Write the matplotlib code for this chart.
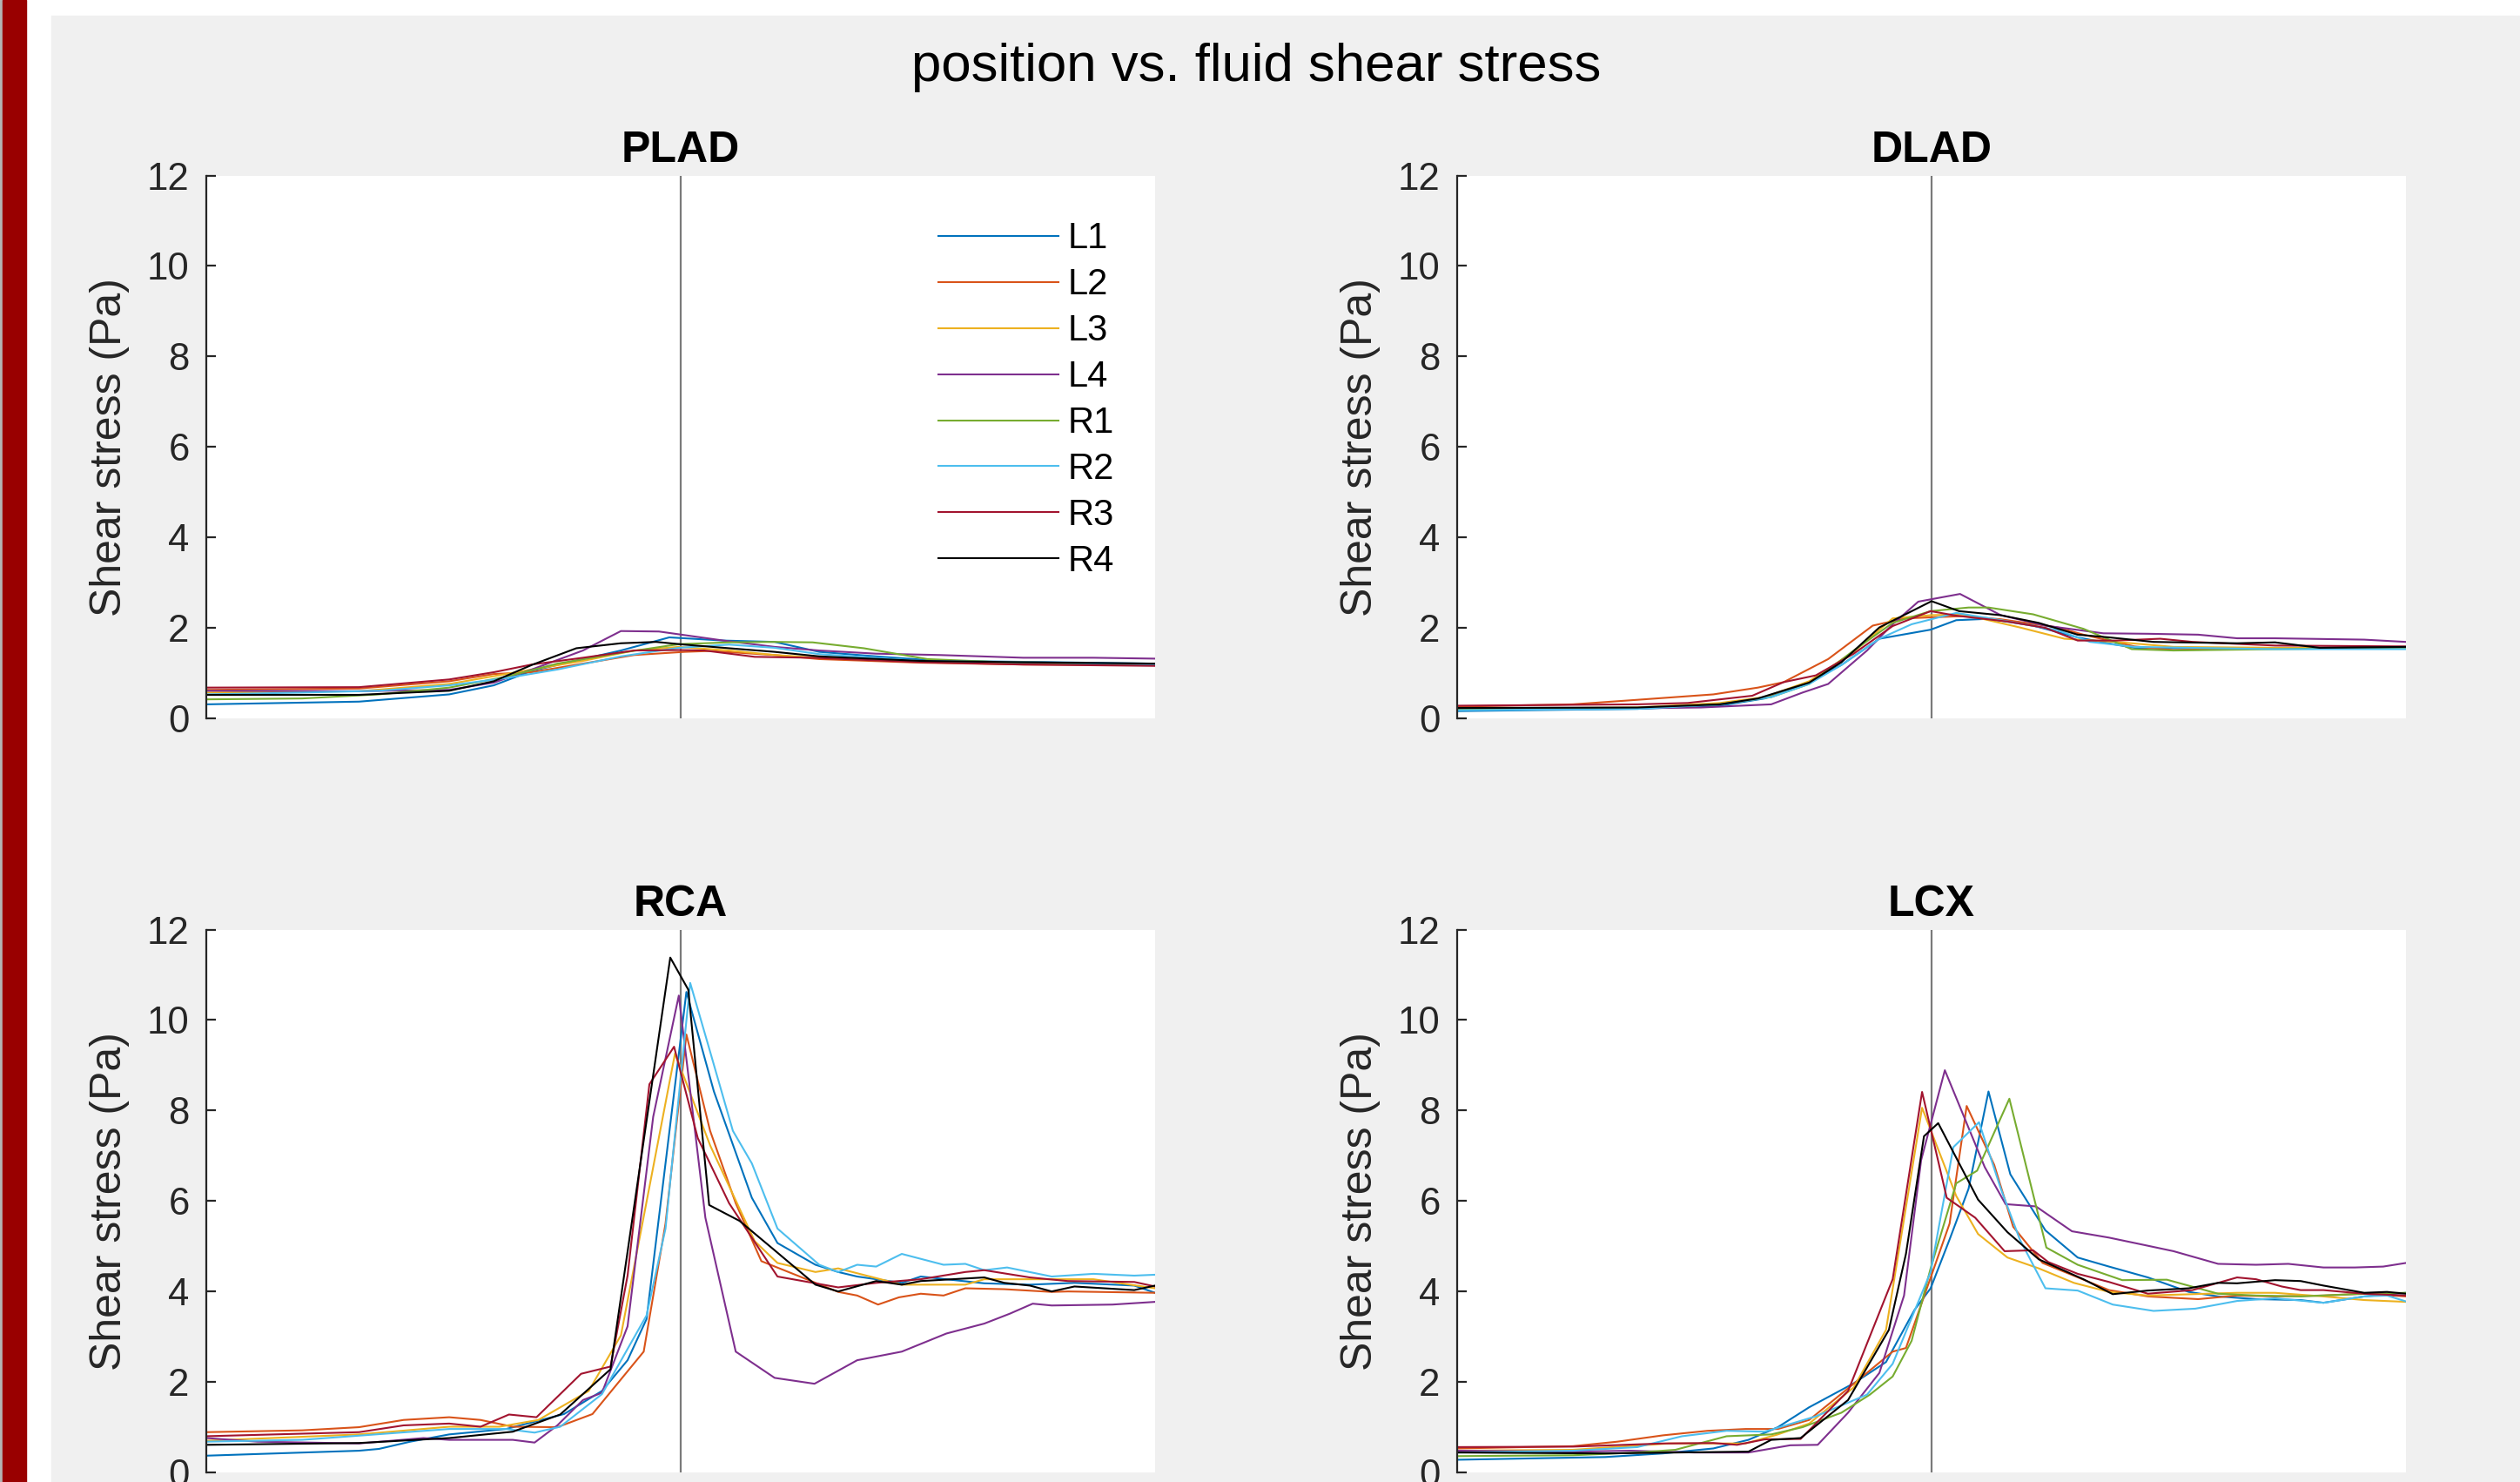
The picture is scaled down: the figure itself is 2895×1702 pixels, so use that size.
import matplotlib
matplotlib.use("Agg")
import matplotlib.pyplot as plt
from matplotlib.patches import Rectangle

plt.rcParams['font.family'] = ['Liberation Sans', 'DejaVu Sans']

SERIES = ["L1", "L2", "L3", "L4", "R1", "R2", "R3", "R4"]
COLORS = ["#0072BD", "#D95319", "#EDB120", "#7E2F8E", "#77AC30", "#4DBEEE", "#A2142F", "#000000"]
PANELS = ["PLAD", "DLAD", "RCA", "LCX"]
CENTER_POS = 50

PLAD_X = {
    "L1": [0, 16.1, 25.6, 30.3, 34.3, 39.7, 43.7, 48.8, 54.5, 59.9, 64.6, 70.6, 77.3, 86.1, 100],
    "L2": [0, 16.1, 25.6, 30.3, 34.3, 39.7, 45.1, 50.4, 53.1, 59.9, 64.6, 75.3, 86.1, 100],
    "L3": [0, 16.1, 25.6, 34.3, 39.7, 45.1, 49.8, 55.1, 59.9, 64.6, 75.3, 86.1, 100],
    "L4": [0, 16.1, 25.6, 30.3, 34.3, 39.7, 43.7, 47.7, 54.5, 59.9, 64.6, 70.6, 77.3, 86.1, 93.5, 100],
    "R1": [0, 10.1, 18.2, 25.6, 31.6, 37.0, 43.7, 49.8, 55.1, 59.9, 63.9, 69.3, 76.0, 84.1, 100],
    "R2": [0, 10.1, 18.2, 25.6, 31.6, 37.0, 43.7, 49.8, 55.1, 59.9, 64.6, 75.3, 86.1, 100],
    "R3": [0, 16.1, 25.6, 30.3, 34.3, 39.7, 45.1, 49.8, 52.5, 57.8, 63.9, 75.3, 86.1, 100],
    "R4": [0, 16.1, 25.6, 30.3, 34.3, 39.0, 43.7, 47.4, 50.4, 55.1, 59.9, 64.6, 75.3, 86.1, 100],
}
PLAD_Y = {
    "L1": [0.31, 0.37, 0.53, 0.73, 1.05, 1.31, 1.50, 1.79, 1.72, 1.69, 1.47, 1.37, 1.27, 1.25, 1.21],
    "L2": [0.63, 0.66, 0.82, 0.98, 1.02, 1.21, 1.40, 1.47, 1.49, 1.40, 1.31, 1.23, 1.19, 1.18],
    "L3": [0.57, 0.60, 0.76, 1.08, 1.27, 1.50, 1.58, 1.50, 1.40, 1.34, 1.25, 1.24, 1.19],
    "L4": [0.61, 0.60, 0.63, 0.79, 1.08, 1.50, 1.93, 1.92, 1.72, 1.58, 1.50, 1.43, 1.40, 1.34, 1.34, 1.32],
    "R1": [0.42, 0.44, 0.53, 0.68, 0.92, 1.21, 1.45, 1.64, 1.68, 1.69, 1.68, 1.55, 1.31, 1.24, 1.18],
    "R2": [0.53, 0.57, 0.61, 0.73, 0.89, 1.08, 1.37, 1.56, 1.63, 1.56, 1.42, 1.27, 1.24, 1.19],
    "R3": [0.68, 0.69, 0.86, 1.02, 1.19, 1.34, 1.50, 1.51, 1.50, 1.36, 1.34, 1.24, 1.19, 1.16],
    "R4": [0.52, 0.52, 0.61, 0.82, 1.18, 1.55, 1.66, 1.69, 1.63, 1.55, 1.47, 1.37, 1.27, 1.24, 1.21],
}

DLAD_X = {
    "L1": [0, 19.0, 27.7, 32.4, 36.4, 40.5, 44.5, 49.9, 52.6, 56.0, 60.7, 65.4, 69.4, 71.4, 79.5, 86.2, 100],
    "L2": [0, 12.2, 19.0, 27.0, 31.7, 34.4, 39.1, 43.8, 47.2, 53.3, 57.3, 63.3, 66.0, 71.4, 75.5, 86.2, 100],
    "L3": [0, 19.0, 27.7, 32.4, 37.1, 41.8, 45.9, 49.9, 53.3, 59.3, 64.0, 69.4, 75.5, 86.2, 100],
    "L4": [0, 12.2, 25.7, 33.1, 36.4, 39.1, 43.2, 45.9, 48.6, 53.0, 57.3, 62.0, 68.1, 72.8, 78.1, 82.2, 86.2, 95.6, 100],
    "R1": [0, 19.0, 27.7, 33.1, 37.1, 41.8, 45.9, 49.9, 53.9, 56.0, 60.7, 66.0, 71.1, 75.5, 86.2, 100],
    "R2": [0, 19.0, 27.7, 33.1, 37.1, 40.5, 44.5, 47.9, 52.6, 57.3, 63.3, 66.7, 71.4, 86.2, 100],
    "R3": [0, 19.0, 24.3, 31.1, 34.4, 37.8, 41.8, 45.9, 49.9, 52.6, 58.0, 62.0, 65.4, 69.4, 74.1, 77.5, 86.2, 100],
    "R4": [0, 19.0, 27.7, 31.7, 37.1, 40.5, 44.5, 50.0, 52.9, 57.3, 61.3, 65.4, 68.7, 73.4, 82.2, 86.2, 90.9, 100],
}
DLAD_Y = {
    "L1": [0.16, 0.21, 0.28, 0.44, 0.73, 1.18, 1.76, 1.96, 2.17, 2.20, 2.05, 1.79, 1.63, 1.56, 1.54, 1.56, 1.55],
    "L2": [0.26, 0.31, 0.41, 0.53, 0.68, 0.80, 1.31, 2.05, 2.21, 2.26, 2.19, 2.01, 1.85, 1.59, 1.51, 1.55, 1.56],
    "L3": [0.21, 0.24, 0.34, 0.47, 0.82, 1.47, 2.21, 2.28, 2.30, 2.01, 1.76, 1.69, 1.58, 1.56, 1.56],
    "L4": [0.21, 0.21, 0.24, 0.31, 0.57, 0.76, 1.50, 2.08, 2.58, 2.75, 2.28, 2.05, 1.88, 1.87, 1.85, 1.77, 1.77, 1.74, 1.69],
    "R1": [0.19, 0.23, 0.31, 0.47, 0.76, 1.50, 2.11, 2.37, 2.45, 2.45, 2.30, 1.98, 1.53, 1.50, 1.53, 1.56],
    "R2": [0.18, 0.21, 0.31, 0.47, 0.76, 1.18, 1.76, 2.08, 2.33, 2.17, 1.95, 1.69, 1.58, 1.53, 1.53],
    "R3": [0.28, 0.31, 0.34, 0.50, 0.80, 0.95, 1.43, 2.04, 2.37, 2.27, 2.14, 2.00, 1.72, 1.72, 1.76, 1.69, 1.61, 1.59],
    "R4": [0.23, 0.24, 0.31, 0.44, 0.79, 1.24, 2.01, 2.59, 2.37, 2.28, 2.11, 1.85, 1.79, 1.69, 1.66, 1.68, 1.56, 1.58],
}

RCA_X = {
    "L1": [0, 16.1, 18.2, 21.5, 25.6, 31.6, 37.7, 41.7, 44.4, 46.4, 50.6, 53.5, 57.5, 60.2, 64.2, 66.6, 68.6, 73.3, 75.3, 82.0, 86.8, 91.5, 97.8, 100],
    "L2": [0, 10.1, 16.1, 20.8, 25.6, 28.9, 32.3, 37.0, 40.7, 46.1, 48.4, 50.6, 53.1, 55.8, 58.5, 66.6, 68.6, 70.8, 73.0, 75.3, 77.7, 80.0, 84.1, 89.1, 90.8, 100],
    "L3": [0, 16.1, 25.6, 30.9, 35.0, 40.3, 43.7, 49.4, 53.1, 57.8, 60.2, 64.2, 66.6, 73.3, 80.0, 82.0, 93.5, 100],
    "L4": [0, 5.4, 16.1, 22.9, 25.6, 32.3, 34.6, 37.0, 39.7, 41.7, 44.4, 47.1, 49.8, 52.6, 55.8, 59.9, 64.1, 68.6, 73.3, 78.0, 82.0, 84.7, 87.1, 89.1, 95.5, 100],
    "R1": [],
    "R2": [0, 10.1, 25.6, 31.6, 34.6, 37.3, 41.7, 46.4, 48.4, 51.0, 53.1, 55.5, 57.5, 60.2, 64.6, 66.6, 68.6, 70.6, 73.3, 77.7, 80.0, 82.0, 84.4, 89.1, 93.5, 97.8, 100],
    "R3": [0, 16.1, 20.8, 25.6, 28.9, 31.9, 34.8, 39.5, 42.6, 44.4, 46.7, 49.3, 51.8, 55.1, 60.2, 66.6, 70.6, 75.3, 80.0, 82.0, 86.8, 90.8, 97.8, 100],
    "R4": [0, 16.1, 25.6, 32.3, 37.3, 42.6, 48.9, 50.8, 53.0, 56.2, 59.9, 64.2, 66.6, 70.6, 73.3, 75.3, 82.0, 84.1, 86.8, 89.1, 91.5, 97.8, 100],
}
RCA_Y = {
    "L1": [0.37, 0.48, 0.52, 0.68, 0.84, 0.96, 1.29, 1.80, 2.48, 3.39, 10.62, 8.42, 6.07, 5.07, 4.59, 4.43, 4.33, 4.19, 4.33, 4.18, 4.15, 4.19, 4.13, 3.97],
    "L2": [0.89, 0.93, 1.00, 1.16, 1.22, 1.16, 1.01, 1.00, 1.29, 2.67, 5.50, 9.68, 7.55, 5.95, 4.67, 3.99, 3.91, 3.71, 3.87, 3.95, 3.91, 4.07, 4.05, 3.99, 4.00, 3.97],
    "L3": [0.70, 0.84, 1.01, 1.01, 1.16, 1.80, 3.03, 9.26, 7.23, 5.11, 4.63, 4.43, 4.51, 4.15, 4.15, 4.27, 4.27, 4.07],
    "L4": [0.76, 0.68, 0.64, 0.76, 0.72, 0.72, 0.66, 1.04, 1.60, 1.76, 3.23, 7.86, 10.54, 5.63, 2.67, 2.09, 1.96, 2.48, 2.67, 3.07, 3.29, 3.51, 3.73, 3.69, 3.71, 3.77],
    "R1": [],
    "R2": [0.68, 0.72, 0.96, 0.96, 0.88, 1.01, 1.73, 3.47, 5.39, 10.82, 9.30, 7.55, 6.83, 5.39, 4.59, 4.43, 4.59, 4.55, 4.83, 4.59, 4.61, 4.47, 4.53, 4.33, 4.39, 4.35, 4.37],
    "R3": [0.80, 0.89, 1.04, 1.08, 1.01, 1.28, 1.22, 2.18, 2.34, 4.35, 8.58, 9.41, 7.39, 5.95, 4.33, 4.09, 4.19, 4.27, 4.43, 4.47, 4.31, 4.23, 4.21, 4.11],
    "R4": [0.61, 0.65, 0.76, 0.90, 1.28, 2.28, 11.38, 10.67, 5.91, 5.56, 4.91, 4.15, 4.00, 4.23, 4.15, 4.23, 4.31, 4.19, 4.13, 4.00, 4.11, 4.03, 4.13],
}

LCX_X = {
    "L1": [0, 15.6, 21.7, 27.0, 30.7, 33.8, 37.1, 41.8, 45.2, 48.2, 49.9, 51.9, 53.9, 56.0, 58.3, 62.0, 65.4, 68.7, 72.8, 77.1, 80.2, 84.2, 88.9, 91.3, 95.6, 100],
    "L2": [0, 12.2, 16.9, 21.7, 26.4, 30.4, 33.8, 37.1, 41.8, 45.9, 47.3, 51.9, 53.7, 56.6, 58.6, 61.7, 68.7, 72.8, 78.1, 82.2, 86.2, 91.3, 95.6, 100],
    "L3": [0, 12.2, 22.3, 30.4, 33.8, 37.1, 41.8, 45.2, 49.0, 52.6, 54.9, 58.0, 61.3, 65.0, 68.7, 72.8, 77.5, 82.2, 86.2, 91.3, 95.6, 100],
    "L4": [0, 12.2, 18.3, 25.0, 30.7, 35.1, 38.0, 41.2, 44.5, 47.1, 48.9, 51.4, 55.6, 57.8, 61.0, 64.8, 68.7, 72.8, 75.5, 80.2, 84.2, 87.6, 91.3, 94.6, 97.6, 100],
    "R1": [0, 12.2, 19.0, 23.0, 28.4, 33.1, 36.4, 40.5, 43.5, 45.9, 47.9, 49.9, 52.6, 54.8, 58.2, 62.1, 65.4, 70.1, 74.8, 80.2, 84.2, 88.9, 95.6, 100],
    "R2": [0, 12.2, 19.0, 23.7, 28.4, 32.4, 37.8, 43.2, 45.9, 49.9, 52.3, 55.0, 57.3, 59.3, 62.0, 65.4, 69.1, 73.4, 77.8, 82.2, 86.2, 91.3, 95.6, 98.0, 100],
    "R3": [0, 12.2, 21.7, 27.0, 29.5, 32.4, 36.2, 41.2, 45.9, 49.0, 51.6, 54.6, 57.7, 60.7, 62.3, 65.4, 68.7, 72.8, 77.5, 80.2, 82.2, 84.2, 86.9, 88.9, 91.3, 95.6, 100],
    "R4": [0, 15.6, 30.7, 33.1, 36.2, 41.2, 45.5, 47.3, 49.2, 50.7, 54.9, 58.0, 61.3, 66.0, 69.1, 72.8, 77.1, 80.2, 82.2, 86.2, 88.9, 91.3, 95.6, 98.0, 100],
}
LCX_Y = {
    "L1": [0.28, 0.34, 0.42, 0.53, 0.72, 1.00, 1.44, 1.97, 2.44, 3.59, 4.07, 5.15, 6.27, 8.42, 6.59, 5.35, 4.75, 4.55, 4.31, 3.99, 3.89, 3.83, 3.81, 3.75, 3.89, 3.97],
    "L2": [0.53, 0.58, 0.68, 0.82, 0.92, 0.96, 0.96, 1.16, 1.96, 2.67, 2.75, 5.50, 8.10, 6.80, 5.43, 4.63, 4.03, 3.89, 3.83, 3.91, 3.89, 3.91, 3.95, 3.89],
    "L3": [0.48, 0.50, 0.64, 0.64, 0.84, 1.08, 1.88, 3.15, 8.06, 6.11, 5.27, 4.75, 4.51, 4.19, 3.99, 3.91, 3.94, 3.97, 3.97, 3.89, 3.81, 3.77],
    "L4": [0.48, 0.46, 0.48, 0.44, 0.44, 0.60, 0.61, 1.32, 2.20, 3.91, 6.90, 8.89, 6.75, 5.93, 5.88, 5.33, 5.19, 5.01, 4.89, 4.61, 4.59, 4.61, 4.53, 4.53, 4.55, 4.63],
    "R1": [0.36, 0.38, 0.44, 0.50, 0.80, 0.84, 1.00, 1.32, 1.72, 2.12, 2.91, 4.51, 6.39, 6.67, 8.26, 4.97, 4.59, 4.25, 4.26, 3.95, 3.91, 3.89, 3.95, 3.97],
    "R2": [0.44, 0.48, 0.56, 0.80, 0.92, 0.90, 1.24, 1.72, 2.40, 4.43, 7.19, 7.74, 6.27, 5.15, 4.07, 4.02, 3.71, 3.57, 3.62, 3.79, 3.85, 3.75, 3.89, 3.91, 3.78],
    "R3": [0.56, 0.57, 0.64, 0.65, 0.61, 0.73, 0.74, 1.80, 4.27, 8.41, 6.07, 5.63, 4.89, 4.91, 4.65, 4.39, 4.21, 3.95, 4.03, 4.19, 4.31, 4.27, 4.11, 4.03, 4.03, 3.95, 3.91],
    "R4": [0.44, 0.42, 0.46, 0.72, 0.76, 1.60, 3.15, 4.83, 7.43, 7.72, 6.03, 5.31, 4.71, 4.27, 3.94, 4.02, 4.07, 4.19, 4.18, 4.25, 4.23, 4.13, 3.97, 3.99, 3.95],
}

Y_TICKS = [0, 2, 4, 6, 8, 10, 12]

W, H = 2895, 1702
fig = plt.figure(figsize=(W / 100, H / 100), dpi=100, facecolor="white")

# page decorations
fig.add_artist(Rectangle((0, 0), 3 / W, 1, transform=fig.transFigure, color="#b4b4b4", zorder=-10))
fig.add_artist(Rectangle((3 / W, 0), 27 / W, 1, transform=fig.transFigure, color="#990000", zorder=-10))
fig.add_artist(Rectangle((59 / W, 0), 1 - 59 / W, 1 - 18 / H, transform=fig.transFigure,
                         color="#f0f0f0", zorder=-10))

axw = 1090 / W
axh = 623.5 / H
lefts = [237 / W, 1674 / W]
bottoms = [1 - 825 / H, 1 - 1691 / H]
rects = [(lefts[0], bottoms[0]), (lefts[1], bottoms[0]), (lefts[0], bottoms[1]), (lefts[1], bottoms[1])]

DATA = {"PLAD": (PLAD_X, PLAD_Y), "DLAD": (DLAD_X, DLAD_Y), "RCA": (RCA_X, RCA_Y), "LCX": (LCX_X, LCX_Y)}

for name, (l, b) in zip(PANELS, rects):
    ax = fig.add_axes([l, b, axw, axh])
    ax.set_facecolor("white")
    xs, ys = DATA[name]
    for s, c in zip(SERIES, COLORS):
        if len(xs[s]) == 0:
            ax.plot([], [], color=c, lw=1.5, label=s)
            continue
        ax.plot(xs[s], ys[s], color=c, lw=1.5, label=s)
    ax.axvline(CENTER_POS, color="#7a7a7a", lw=1.6, zorder=1)
    ax.set_xlim(0, 100)
    ax.set_ylim(0, 12)
    ax.set_yticks(Y_TICKS)
    ax.xaxis.set_visible(False)
    for sp in ["top", "right", "bottom"]:
        ax.spines[sp].set_visible(False)
    ax.spines["left"].set_color("#262626")
    ax.spines["left"].set_linewidth(1.6)
    ax.tick_params(axis="y", direction="in", length=8, width=1.6, color="#262626",
                   labelsize=31.5, labelcolor="#262626", pad=14)
    ax.set_ylabel("Shear stress (Pa)", fontsize=36, color="#262626", labelpad=14)
    ax.set_title(name, fontsize=36, fontweight="bold", pad=11)
    if name == "PLAD":
        ax.legend(loc="upper left", bbox_to_anchor=(0.772, 0.915), frameon=False,
                  fontsize=30, handlelength=3.3, handletextpad=0.25, labelspacing=0.31,
                  borderpad=0, borderaxespad=0)

fig.text(1443 / W, 1 - 93 / H, "position vs. fluid shear stress", ha="center", va="baseline",
         fontsize=44.5, color="black")

fig.savefig("out.png", dpi=100, facecolor=fig.get_facecolor())
